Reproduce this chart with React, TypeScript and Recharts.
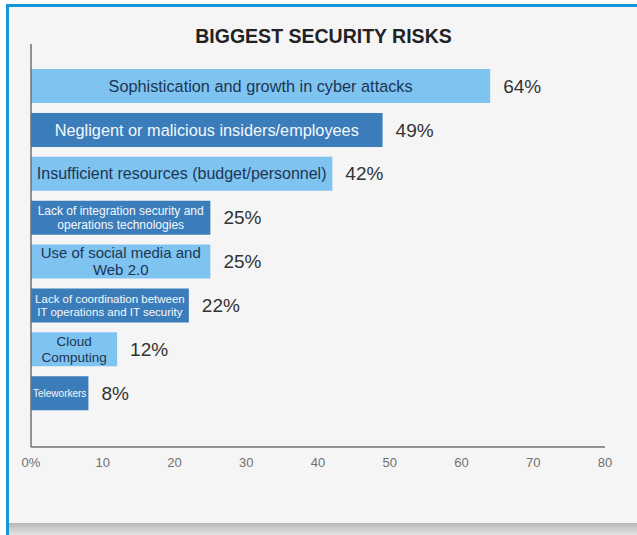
import React from "react";
import { Bar, BarChart, Cell, LabelList, XAxis, YAxis } from "recharts";

// Survey results: share of respondents naming each item as a top risk (%)
const RISKS = [
  "Sophistication and growth in cyber attacks",
  "Negligent or malicious insiders/employees",
  "Insufficient resources (budget/personnel)",
  "Lack of integration security and\noperations technologies",
  "Use of social media and\nWeb 2.0",
  "Lack of coordination between\nIT operations and IT security",
  "Cloud\nComputing",
  "Teleworkers",
];
const SHARE = [64, 49, 42, 25, 25, 22, 12, 8];
const X_TICKS = [0, 10, 20, 30, 40, 50, 60, 70, 80];

// Inner label sizing per bar (long two-line captions are set smaller)
const LABEL_FONT = [16.3, 16.3, 16, 12, 15, 11.5, 13.5, 10];

const LIGHT = "#7fc3f1";
const DARK = "#3b7dba";
const FONT = '"Liberation Sans", Arial, Helvetica, sans-serif';

const data = RISKS.map((name, i) => ({ name, value: SHARE[i] }));

function InnerLabel(props: any) {
  const { x, y, width, height, index } = props;
  const lines = RISKS[index].split("\n");
  const size = LABEL_FONT[index];
  const lh = size * 1.15;
  const cx = x + width / 2;
  const cy = y + height / 2;
  const top = cy - ((lines.length - 1) * lh) / 2;
  const fill = index % 2 === 0 ? "#1c3652" : "#f4f8fc";
  return (
    <text x={cx} textAnchor="middle" fontSize={size} fill={fill} fontFamily={FONT}>
      {lines.map((line: string, k: number) => (
        <tspan key={k} x={cx} y={top + k * lh} dy="0.35em">
          {line}
        </tspan>
      ))}
    </text>
  );
}

export default function App() {
  return (
    <div style={{ position: "absolute", left: 0, top: 0, width: 637, height: 535, background: "#fff", overflow: "hidden" }}>
      {/* blue frame with grey panel */}
      <div
        style={{
          position: "absolute",
          left: 6,
          top: 4,
          width: 631,
          height: 531,
          background: "#f5f5f5",
          borderTop: "3px solid #1696d6",
          borderLeft: "3px solid #1696d6",
          boxSizing: "border-box",
        }}
      />
      <div
        style={{
          position: "absolute",
          left: 9,
          top: 523,
          width: 628,
          height: 12,
          background: "linear-gradient(#b8b8b8, #e2e2e2)",
        }}
      />
      <div
        style={{
          position: "absolute",
          left: 0,
          top: 25,
          width: 647,
          textAlign: "center",
          fontFamily: FONT,
          fontSize: 19.5,
          fontWeight: 600,
          color: "#222",
          lineHeight: "22px",
        }}
      >
        BIGGEST SECURITY RISKS
      </div>
      <div style={{ position: "absolute", left: 0, top: 0 }}>
        <BarChart
          width={637}
          height={535}
          data={data}
          layout="vertical"
          margin={{ top: 44, right: 32, bottom: 58, left: 30 }}
          barCategoryGap={0}
        >
          <XAxis
            type="number"
            domain={[0, 80]}
            ticks={X_TICKS}
            interval={0}
            height={30}
            tickLine={false}
            tickMargin={5}
            tickFormatter={(v: number) => (v === 0 ? "0%" : String(v))}
            tick={{ fontSize: 13, fill: "#707070", fontFamily: FONT }}
            axisLine={{ stroke: "#6f6f6f", strokeWidth: 1.5 }}
          />
          <YAxis
            type="category"
            dataKey="name"
            width={1}
            tick={false}
            tickLine={false}
            padding={{ top: 20, bottom: 32 }}
            axisLine={{ stroke: "#6f6f6f", strokeWidth: 1.5 }}
          />
          <Bar dataKey="value" barSize={34} isAnimationActive={false}>
            {data.map((_, i) => (
              <Cell key={i} fill={i % 2 === 0 ? LIGHT : DARK} />
            ))}
            <LabelList dataKey="value" content={InnerLabel} />
            <LabelList
              dataKey="value"
              position="right"
              offset={13}
              formatter={(v: number) => `${v}%`}
              fill="#333"
              fontSize={19}
              fontFamily={FONT}
            />
          </Bar>
        </BarChart>
      </div>
    </div>
  );
}
